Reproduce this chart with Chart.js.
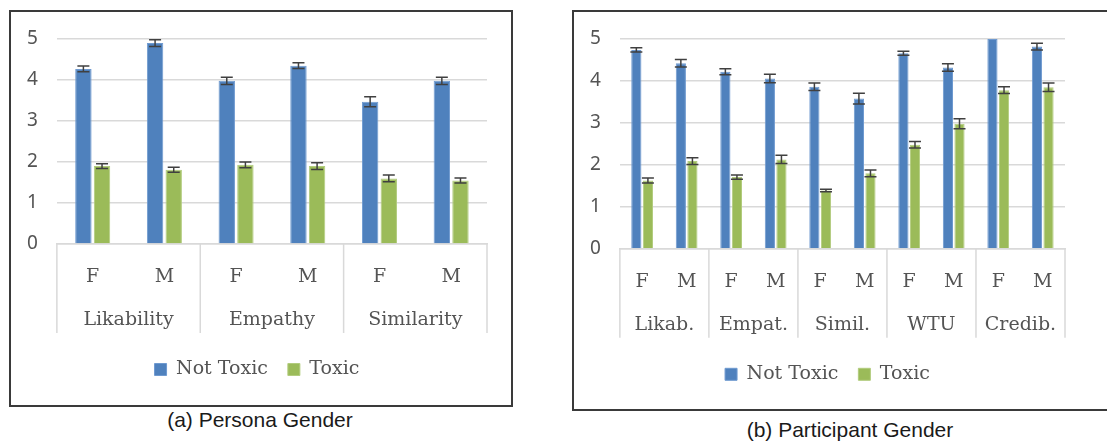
<!DOCTYPE html>
<html>
<head>
<meta charset="utf-8">
<script src="https://cdn.jsdelivr.net/npm/chart.js@4.4.0/dist/chart.umd.min.js"></script>
<style>
  body { margin: 0; background: #fff; width: 1107px; height: 442px; overflow: hidden; position: relative; }
  .box { position: absolute; border: 2px solid #3a3a3a; background: #fff; }
  .caption { position: absolute; font-family: "Liberation Sans", Arial, sans-serif; font-size: 21px; color: #1a1a1a; text-align: center; }
  canvas { display: block; }
</style>
</head>
<body>
<div class="box" style="left:9px; top:10px; width:500px; height:393px;">
  <canvas id="personaChart" width="500" height="393"></canvas>
</div>
<div class="caption" style="left:110px; top:408px; width:300px;">(a) Persona Gender</div>

<div class="box" style="left:572px; top:10px; width:540px; height:397px;">
  <canvas id="participantChart" width="533" height="397"></canvas>
</div>
<div class="caption" style="left:700px; top:418px; width:300px;">(b) Participant Gender</div>

<script>
// (a) persona gender
const personaGroups = ['Likability', 'Empathy', 'Similarity'];
const personaGenders = ['F', 'M', 'F', 'M', 'F', 'M'];
const personaNotToxic = [4.27, 4.9, 3.98, 4.35, 3.47, 3.98];
const personaNotToxicErr = [0.07, 0.08, 0.09, 0.07, 0.12, 0.09];
const personaToxic = [1.9, 1.81, 1.93, 1.9, 1.6, 1.55];
const personaToxicErr = [0.06, 0.06, 0.07, 0.08, 0.08, 0.06];

// (b) participant gender
const participantGroups = ['Likab.', 'Empat.', 'Simil.', 'WTU', 'Credib.'];
const participantGenders = ['F', 'M', 'F', 'M', 'F', 'M', 'F', 'M', 'F', 'M'];
const participantNotToxic = [4.74, 4.42, 4.22, 4.06, 3.86, 3.58, 4.66, 4.32, 5.0, 4.82];
const participantNotToxicErr = [0.05, 0.09, 0.07, 0.1, 0.09, 0.13, 0.05, 0.09, 0, 0.08];
const participantToxic = [1.63, 2.09, 1.71, 2.13, 1.39, 1.8, 2.48, 2.98, 3.78, 3.85];
const participantToxicErr = [0.06, 0.08, 0.05, 0.1, 0.03, 0.08, 0.08, 0.12, 0.08, 0.1];

const yTicks = [0, 1, 2, 3, 4, 5];

const gray = '#545454';
const lineGray = '#d9d9d9';
const serif = '"DejaVu Serif", serif';

// error bars on top of every bar
const errorBars = {
    id: 'errorBars',
    afterDatasetsDraw(chart) {
        const ctx = chart.ctx;
        const yScale = chart.scales.y;
        const area = chart.chartArea;
        ctx.save();
        ctx.beginPath();
        ctx.rect(area.left, area.top, area.right - area.left, area.bottom - area.top);
        ctx.clip();
        ctx.strokeStyle = '#404040';
        ctx.lineWidth = 1.5;
        chart.data.datasets.forEach((ds, i) => {
            chart.getDatasetMeta(i).data.forEach((bar, j) => {
                const err = ds.errors[j];
                if (!err) return;
                const top = yScale.getPixelForValue(ds.data[j] + err);
                const bottom = yScale.getPixelForValue(ds.data[j] - err);
                ctx.beginPath();
                ctx.moveTo(bar.x, top);
                ctx.lineTo(bar.x, bottom);
                ctx.moveTo(bar.x - 6, top);
                ctx.lineTo(bar.x + 6, top);
                ctx.moveTo(bar.x - 6, bottom);
                ctx.lineTo(bar.x + 6, bottom);
                ctx.stroke();
            });
        });
        ctx.restore();
    }
};

// vertical separators between the category groups, through both label rows
const groupLines = {
    id: 'groupLines',
    afterDraw(chart) {
        const x = chart.scales.x;
        const g = chart.scales.group;
        const ctx = chart.ctx;
        const n = x.ticks.length;
        ctx.save();
        ctx.strokeStyle = lineGray;
        ctx.lineWidth = 1.5;
        for (let i = 0; i <= n; i += 2) {
            let px;
            if (i === 0) px = x.left;
            else if (i === n) px = x.right;
            else px = (x.getPixelForTick(i - 1) + x.getPixelForTick(i)) / 2;
            ctx.beginPath();
            ctx.moveTo(px, x.top);
            ctx.lineTo(px, g.bottom + 3);
            ctx.stroke();
        }
        ctx.restore();
    }
};

function makeChart(id, genders, groups, notToxic, notToxicErr, toxic, toxicErr, padRight, padBottom) {
    const ctx = document.getElementById(id).getContext('2d');
    const labelFont = { family: serif, size: 19 };
    return new Chart(ctx, {
        type: 'bar',
        data: {
            labels: genders,
            datasets: [{
                label: 'Not Toxic',
                data: notToxic,
                errors: notToxicErr,
                backgroundColor: '#4f81bd',
                borderColor: '#6f9ad0',
                borderWidth: 1,
                categoryPercentage: 0.52,
                barPercentage: 0.88
            }, {
                label: 'Toxic',
                data: toxic,
                errors: toxicErr,
                backgroundColor: '#9bbb59',
                borderColor: '#b2cc7e',
                borderWidth: 1,
                categoryPercentage: 0.52,
                barPercentage: 0.88
            }]
        },
        options: {
            responsive: false,
            animation: false,
            devicePixelRatio: 1,
            layout: {
                padding: { top: 27, left: 16, right: padRight, bottom: padBottom }
            },
            plugins: {
                legend: {
                    position: 'bottom',
                    title: {
                        display: true,
                        text: ' ',
                        font: { size: 1 },
                        padding: { top: 8.8, bottom: 0 }
                    },
                    labels: {
                        boxWidth: 12,
                        boxHeight: 12,
                        padding: 20,
                        color: gray,
                        font: labelFont
                    }
                },
                tooltip: { enabled: false }
            },
            scales: {
                y: {
                    min: 0,
                    max: 5,
                    afterBuildTicks: axis => { axis.ticks = yTicks.map(v => ({ value: v })); },
                    grid: { color: lineGray, lineWidth: 1.5, drawTicks: false },
                    border: { display: false },
                    ticks: {
                        padding: 9.5,
                        crossAlign: 'far',
                        color: gray,
                        font: { family: '"Noto Sans", sans-serif', size: 19 }
                    }
                },
                x: {
                    weight: 1,
                    grid: { display: false },
                    border: { display: true, color: lineGray, width: 1.5 },
                    ticks: {
                        padding: 13.6,
                        autoSkip: false,
                        maxRotation: 0,
                        color: gray,
                        font: labelFont
                    }
                },
                group: {
                    type: 'category',
                    position: 'bottom',
                    weight: 2,
                    labels: groups,
                    offset: true,
                    grid: { display: false },
                    border: { display: false },
                    ticks: {
                        padding: -1.4,
                        autoSkip: false,
                        maxRotation: 0,
                        color: gray,
                        font: labelFont
                    }
                }
            }
        },
        plugins: [errorBars, groupLines]
    });
}

makeChart('personaChart', personaGenders, personaGroups,
    personaNotToxic, personaNotToxicErr, personaToxic, personaToxicErr, 24, 16);
makeChart('participantChart', participantGenders, participantGroups,
    participantNotToxic, participantNotToxicErr, participantToxic, participantToxicErr, 42, 15.2);
</script>
</body>
</html>
